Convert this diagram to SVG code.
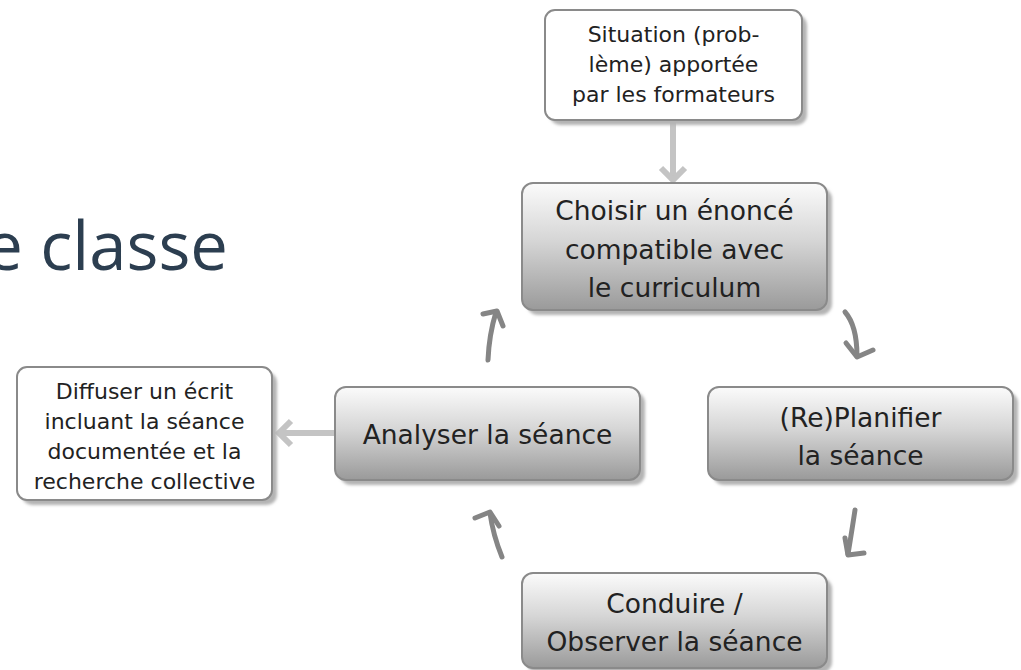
<svg xmlns="http://www.w3.org/2000/svg" width="1021" height="670" viewBox="0 0 1021 670">
<defs>
<linearGradient id="g" x1="0" y1="0" x2="0" y2="1">
<stop offset="0" stop-color="#fbfbfb"/>
<stop offset="0.45" stop-color="#d6d6d6"/>
<stop offset="1" stop-color="#9a9a9a"/>
</linearGradient>
<filter id="blur" x="-10%" y="-10%" width="120%" height="120%"><feGaussianBlur stdDeviation="1.5"/></filter>
</defs>
<style>
.shadow{fill:#b4b4b4;filter:url(#blur)}
.main{fill:url(#g);stroke:#8a8a8a;stroke-width:2}
.plain{fill:#ffffff;stroke:#8a8a8a;stroke-width:2}
.t{font-family:"DejaVu Sans",sans-serif;fill:#222;text-anchor:middle}
.big{font-size:26.5px}
.small{font-size:22px}
.conn{fill:none;stroke:#c4c4c4;stroke-width:6}
.cyc{fill:none;stroke:#858585;stroke-width:5;stroke-linecap:round;stroke-linejoin:round}
</style>
<rect width="1021" height="670" fill="#ffffff"/>
<text x="228" y="270" font-family="Open Sans, sans-serif" font-size="67" fill="#2c3e50" text-anchor="end">e classe</text>

<g id="connectors">
<line class="conn" x1="673" y1="122" x2="673" y2="178"/>
<polyline class="conn" points="661,168 673,180 685,168"/>
<line class="conn" x1="335" y1="433" x2="281" y2="433"/>
<polyline class="conn" points="291,421 279,433 291,445"/>
<path class="cyc" d="M488,360 Q489,335 496,312"/>
<path class="cyc" d="M483,314 L497,311 L503,326"/>
<path class="cyc" d="M845,312 C852,320 857,335 857,356"/>
<path class="cyc" d="M846,343 L857,357 L873,350"/>
<path class="cyc" d="M855,510 Q852,530 848,554"/>
<path class="cyc" d="M845,538 L848,555 L864,553"/>
<path class="cyc" d="M502,557 Q493,535 490,513"/>
<path class="cyc" d="M475,518 L490,512 L499,526"/>
</g>

<g id="situation">
<rect class="shadow" x="550" y="15" width="257" height="110" rx="10"/>
<rect class="plain" x="545" y="10" width="257" height="110" rx="10"/>
<text class="t small" x="673.5" y="42">Situation (prob-</text>
<text class="t small" x="673.5" y="72">lème) apportée</text>
<text class="t small" x="673.5" y="102">par les formateurs</text>
</g>

<g id="choisir">
<rect class="shadow" x="527" y="188" width="305" height="127" rx="11"/>
<rect class="main" x="522" y="183" width="305" height="127" rx="11"/>
<text class="t big" x="674.5" y="220">Choisir un énoncé</text>
<text class="t big" x="674.5" y="259">compatible avec</text>
<text class="t big" x="674.5" y="297">le curriculum</text>
</g>

<g id="diffuser">
<rect class="shadow" x="22" y="372" width="255" height="133" rx="10"/>
<rect class="plain" x="17" y="367" width="255" height="133" rx="10"/>
<text class="t small" x="144.5" y="399">Diffuser un écrit</text>
<text class="t small" x="144.5" y="429">incluant la séance</text>
<text class="t small" x="144.5" y="459">documentée et la</text>
<text class="t small" x="144.5" y="489">recherche collective</text>
</g>

<g id="analyser">
<rect class="shadow" x="340" y="392" width="305" height="93" rx="11"/>
<rect class="main" x="335" y="387" width="305" height="93" rx="11"/>
<text class="t big" x="487.5" y="444">Analyser la séance</text>
</g>

<g id="planifier">
<rect class="shadow" x="713" y="392" width="305" height="93" rx="11"/>
<rect class="main" x="708" y="387" width="305" height="93" rx="11"/>
<text class="t big" x="860.5" y="427">(Re)Planifier</text>
<text class="t big" x="860.5" y="465">la séance</text>
</g>

<g id="conduire">
<rect class="shadow" x="527" y="578" width="305" height="95" rx="11"/>
<rect class="main" x="522" y="573" width="305" height="95" rx="11"/>
<text class="t big" x="674.5" y="613">Conduire /</text>
<text class="t big" x="674.5" y="651">Observer la séance</text>
</g>
</svg>
